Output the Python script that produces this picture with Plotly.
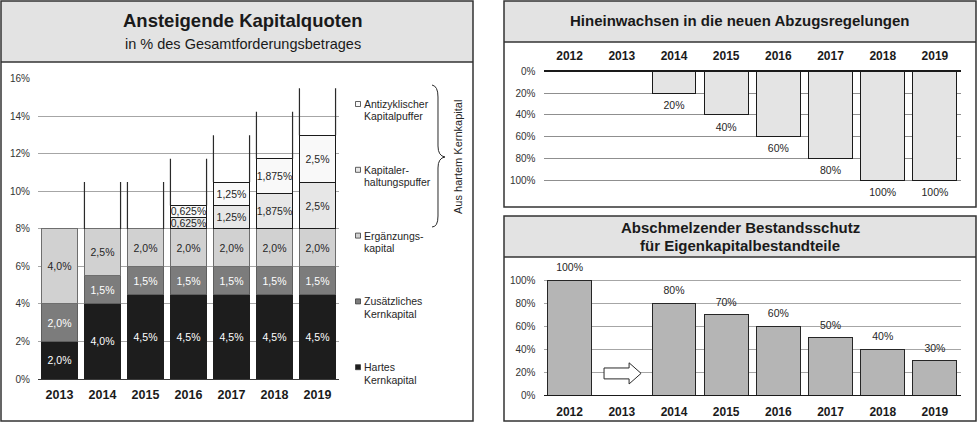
import plotly.graph_objects as go

W, H = 977, 423

# ---------------- data: left chart ----------------
jahre_links = ["2013", "2014", "2015", "2016", "2017", "2018", "2019"]
hartes_kernkapital = [2.0, 4.0, 4.5, 4.5, 4.5, 4.5, 4.5]
zusaetzliches_kernkapital = [2.0, 1.5, 1.5, 1.5, 1.5, 1.5, 1.5]
ergaenzungskapital = [4.0, 2.5, 2.0, 2.0, 2.0, 2.0, 2.0]
kapitalerhaltungspuffer = [None, None, None, 0.625, 1.25, 1.875, 2.5]
antizyklischer_kapitalpuffer = [None, None, None, 0.625, 1.25, 1.875, 2.5]
puffer_spielraum = [None, 2.5, 2.5, 2.5, 2.5, 2.5, 2.5]
y_ticks_links = [0, 2, 4, 6, 8, 10, 12, 14, 16]

# ---------------- data: right charts ----------------
jahre_rechts = ["2012", "2013", "2014", "2015", "2016", "2017", "2018", "2019"]
abzugsregelungen = [None, None, 20, 40, 60, 80, 100, 100]
bestandsschutz = [100, None, 80, 70, 60, 50, 40, 30]
y_ticks_rechts = [0, 20, 40, 60, 80, 100]

FONT = "Liberation Sans"
TXT = "#262626"
BAND = "#e3e3e3"
BORDER = "#333333"
BARGAP = 0.16
LABEL_GAP_TOP = 12     # label distance below bar end (axis units)
LABEL_GAP_BOTTOM = 10  # label distance above bar top (axis units)

# pixel geometry of the two right-hand value axes (0 % and 100 % positions)
TOP_Y0, TOP_Y100 = 71.5, 180.0
BOT_Y0, BOT_Y100 = 395.0, 280.0
TOP_MAX, BOT_MAX = 114, 112


def fx(x):
    return x / W


def fy(y):
    return 1 - y / H


def de(v):
    s = f"{v:g}"
    if "." not in s:
        s += ".0"
    return s.replace(".", ",") + "%"


def pct(v):
    return f"{v:g}%"


fig = go.Figure()

# ---------------- left stacked chart ----------------
xs_l = list(range(len(jahre_links)))
serien = [
    ("Hartes<br>Kernkapital", hartes_kernkapital, "#1d1d1d", "#ffffff", "#1d1d1d"),
    ("Zusätzliches<br>Kernkapital", zusaetzliches_kernkapital, "#7c7c7c", "#ffffff", "#5e5e5e"),
    ("Ergänzungs-<br>kapital", ergaenzungskapital, "#d1d1d1", TXT, "#6e6e6e"),
    ("Kapitaler-<br>haltungspuffer", kapitalerhaltungspuffer, "#e7e7e7", TXT, "#1a1a1a"),
    ("Antizyklischer<br>Kapitalpuffer", antizyklischer_kapitalpuffer, "#f9f9f9", TXT, "#1a1a1a"),
]
for name, vals, col, tcol, lcol in serien:
    fig.add_trace(go.Bar(
        x=xs_l, y=vals, name=name, xaxis="x", yaxis="y",
        marker=dict(color=col, line=dict(color=lcol, width=1)),
        text=[de(v) if v else "" for v in vals],
        textposition="inside", insidetextanchor="middle", textangle=0,
        constraintext="none",
        textfont=dict(family=FONT, size=10.5, color=tcol),
        hoverinfo="skip",
    ))

# vertical range lines above the stacks
summen = [sum(v for v in col if v) for col in zip(hartes_kernkapital, zusaetzliches_kernkapital,
                                                  ergaenzungskapital, kapitalerhaltungspuffer,
                                                  antizyklischer_kapitalpuffer)]
half = (1 - BARGAP) / 2
lx, ly = [], []
for i, (s, r) in enumerate(zip(summen, puffer_spielraum)):
    if r is None:
        continue
    for side in (-half, half):
        lx += [i + side, i + side, None]
        ly += [s, s + r, None]
fig.add_trace(go.Scatter(x=lx, y=ly, mode="lines", xaxis="x", yaxis="y",
                         line=dict(color="#2a2a2a", width=1.2), hoverinfo="skip",
                         showlegend=False))

# ---------------- right top chart ----------------
xs_r = list(range(len(jahre_rechts)))
fig.add_trace(go.Bar(
    x=xs_r, y=abzugsregelungen, xaxis="x2", yaxis="y2",
    marker=dict(color="#e4e4e4", line=dict(color="#1a1a1a", width=1)),
    hoverinfo="skip",
))
fig.add_trace(go.Scatter(
    x=[x for x, v in zip(xs_r, abzugsregelungen) if v],
    y=[v + LABEL_GAP_TOP for v in abzugsregelungen if v],
    text=[pct(v) for v in abzugsregelungen if v],
    mode="text", xaxis="x2", yaxis="y2", cliponaxis=False,
    textfont=dict(family=FONT, size=10.5, color=TXT), hoverinfo="skip",
))

# ---------------- right bottom chart ----------------
fig.add_trace(go.Bar(
    x=xs_r, y=bestandsschutz, xaxis="x3", yaxis="y3",
    marker=dict(color="#b5b5b5", line=dict(color="#262626", width=1)),
    hoverinfo="skip",
))
fig.add_trace(go.Scatter(
    x=[x for x, v in zip(xs_r, bestandsschutz) if v],
    y=[v + LABEL_GAP_BOTTOM for v in bestandsschutz if v],
    text=[pct(v) for v in bestandsschutz if v],
    mode="text", xaxis="x3", yaxis="y3", cliponaxis=False,
    textfont=dict(family=FONT, size=10.5, color=TXT), hoverinfo="skip",
))

tickfont_y = dict(family=FONT, size=10, color="#333333")
tickfont_x = dict(family=FONT, size=12.5, color="#1a1a1a", weight="bold")
common = dict(automargin=False, fixedrange=True)

top_bottom_px = TOP_Y0 + TOP_MAX * (TOP_Y100 - TOP_Y0) / 100
bot_top_px = BOT_Y0 - BOT_MAX * (BOT_Y0 - BOT_Y100) / 100

fig.update_layout(
    width=W, height=H,
    margin=dict(l=0, r=0, t=0, b=0, pad=0, autoexpand=False),
    paper_bgcolor="white", plot_bgcolor="white",
    showlegend=False, barmode="stack", bargap=BARGAP,
    font=dict(family=FONT, color=TXT),
    xaxis=dict(domain=[fx(38), fx(339)], anchor="y", range=[-0.5, len(jahre_links) - 0.5],
               tickvals=xs_l, ticktext=jahre_links, tickfont=tickfont_x,
               showgrid=False, zeroline=False, showline=True, linecolor="#3a3a3a", linewidth=1,
               ticks="", ticklabelstandoff=4, **common),
    yaxis=dict(domain=[fy(379), fy(78.6)], anchor="x", range=[0, 16.02],
               tickvals=y_ticks_links, ticktext=[f"{v}%" for v in y_ticks_links],
               tickfont=tickfont_y, showgrid=True, gridcolor="#a6a6a6", gridwidth=1,
               zeroline=False, showline=False, ticks="", ticklabelstandoff=7, **common),
    xaxis2=dict(domain=[fx(543.5), fx(961)], anchor="y2", side="top",
                range=[-0.5, len(jahre_rechts) - 0.5],
                tickvals=xs_r, ticktext=jahre_rechts,
                tickfont=dict(family=FONT, size=12, color="#1a1a1a", weight="bold"),
                showgrid=False, zeroline=False, showline=True, linecolor="#1a1a1a", linewidth=1.2,
                ticks="", ticklabelstandoff=6, **common),
    yaxis2=dict(domain=[fy(top_bottom_px), fy(TOP_Y0)], anchor="x2", range=[TOP_MAX, 0],
                tickvals=y_ticks_rechts, ticktext=[f"{v}%" for v in y_ticks_rechts],
                tickfont=tickfont_y, showgrid=True, gridcolor="#8f8f8f", gridwidth=1,
                zeroline=False, showline=False, ticks="", ticklabelstandoff=7, **common),
    xaxis3=dict(domain=[fx(543.5), fx(961)], anchor="y3",
                range=[-0.5, len(jahre_rechts) - 0.5],
                tickvals=xs_r, ticktext=jahre_rechts,
                tickfont=dict(family=FONT, size=12, color="#1a1a1a", weight="bold"),
                showgrid=False, zeroline=False, showline=True, linecolor="#1a1a1a", linewidth=1.2,
                ticks="", ticklabelstandoff=5, **common),
    yaxis3=dict(domain=[fy(BOT_Y0), fy(bot_top_px)], anchor="x3", range=[0, BOT_MAX],
                tickvals=y_ticks_rechts, ticktext=[f"{v}%" for v in y_ticks_rechts],
                tickfont=tickfont_y, showgrid=True, gridcolor="#a6a6a6", gridwidth=1,
                zeroline=False, showline=False, ticks="", ticklabelstandoff=7, **common),
)

shapes = []
# title bands
for (x0, y0, x1, y1) in [(1, 1, 473, 62), (504, 1, 976, 42), (504, 216, 976, 257)]:
    shapes.append(dict(type="rect", xref="paper", yref="paper", layer="below",
                       x0=fx(x0), x1=fx(x1), y0=fy(y1), y1=fy(y0),
                       fillcolor=BAND, line=dict(width=0)))
    shapes.append(dict(type="line", xref="paper", yref="paper",
                       x0=fx(x0), x1=fx(x1), y0=fy(y1), y1=fy(y1),
                       line=dict(color=BORDER, width=1.3)))
# panel borders
for (x0, y0, x1, y1) in [(1, 1, 473, 421), (504, 1, 976, 207), (504, 216, 976, 421)]:
    shapes.append(dict(type="rect", xref="paper", yref="paper",
                       x0=fx(x0), x1=fx(x1), y0=fy(y1), y1=fy(y0),
                       line=dict(color=BORDER, width=1.5)))

# legend squares (left)
legend_top, legend_step = 104, 65.8
leg_order = serien[::-1]
for k, (name, vals, col, tcol, lcol) in enumerate(leg_order):
    yc = legend_top + k * legend_step
    shapes.append(dict(type="rect", xref="paper", yref="paper",
                       x0=fx(355.5), x1=fx(360.5), y0=fy(yc + 2.5), y1=fy(yc - 2.5),
                       fillcolor=col, line=dict(color="#3a3a3a", width=0.8)))

# curly brace
brace_pts = "M {},{} Q {},{} {},{} L {},{} Q {},{} {},{} Q {},{} {},{} L {},{} Q {},{} {},{}"
bp = [(432, 85), (438, 86), (438, 97), (438, 146), (438, 156), (445, 157),
      (438, 158), (438, 168), (438, 216), (438, 227), (432, 227)]
coords = []
for (px_, py_) in bp:
    coords += [f"{fx(px_):.5f}", f"{fy(py_):.5f}"]
shapes.append(dict(type="path", xref="paper", yref="paper", path=brace_pts.format(*coords),
                   line=dict(color="#2a2a2a", width=1)))

# hollow arrow in 2013 slot of lower right chart
arrow = [(0.66, 14), (1.14, 14), (1.14, 9.6), (1.37, 18.8), (1.14, 28), (1.14, 23.5), (0.66, 23.5)]
apath = "M " + " L ".join(f"{a},{b}" for a, b in arrow) + " Z"
shapes.append(dict(type="path", xref="x3", yref="y3", path=apath,
                   fillcolor="white", line=dict(color="#2a2a2a", width=1)))

annotations = []


def ann(x, y, text, size, bold=False, **kw):
    t = f"<b>{text}</b>" if bold else text
    d = dict(x=fx(x), y=fy(y), xref="paper", yref="paper", text=t, showarrow=False,
             font=dict(family=FONT, size=size, color=kw.pop("color", "#1a1a1a")),
             xanchor=kw.pop("xanchor", "center"), yanchor=kw.pop("yanchor", "middle"))
    d.update(kw)
    annotations.append(d)


ann(243, 21, "Ansteigende Kapitalquoten", 18.5, bold=True)
ann(243, 44, "in % des Gesamtforderungsbetrages", 14.5)
ann(740, 21, "Hineinwachsen in die neuen Abzugsregelungen", 15, bold=True)
ann(740, 227, "Abschmelzender Bestandsschutz", 15, bold=True)
ann(740, 246, "für Eigenkapitalbestandteile", 15, bold=True)

for k, (name, vals, col, tcol, lcol) in enumerate(leg_order):
    yc = legend_top + k * legend_step
    for j, line in enumerate(name.split("<br>")):
        ann(362, yc + j * 12.4, line, 10.5, xanchor="left", color=TXT)

ann(458, 157, "Aus hartem Kernkapital", 11, textangle=-90, color=TXT)

fig.update_layout(shapes=shapes, annotations=annotations)
fig.write_html(
    "out.html",
    config={"displayModeBar": False, "staticPlot": True},
    post_script="document.body.style.margin='0';document.body.style.overflow='hidden';",
)
